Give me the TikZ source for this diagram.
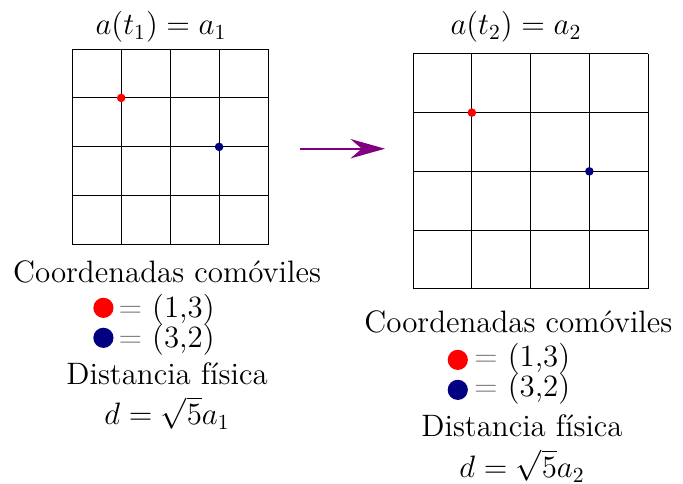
\documentclass[tikz,border=0pt]{standalone}
\usepackage{fontspec}
\usepackage{amsmath}
\usetikzlibrary{arrows.meta}
\definecolor{navyblue}{RGB}{0,0,128}
\definecolor{arrowpurple}{RGB}{128,0,128}

\begin{document}
\begin{tikzpicture}[font=\Large,
  gdot/.style={circle,fill=#1,inner sep=0pt,minimum size=0.14cm},
  legdot/.style={circle,fill=#1,inner sep=0pt,minimum size=0.33cm},
  lbl/.style={anchor=base,inner sep=0pt},
  leg/.style={anchor=base west,inner sep=0pt}]
  \useasboundingbox (-1.18,-3.90) rectangle (9.98,4.00);
  % comoving grid at t_1
  \draw (0,0) grid[step=0.8] (3.2,3.2);
  \node[gdot=red] (p1) at (0.8,2.4) {};
  \node[gdot=navyblue] (q1) at (2.4,1.6) {};
  \node[lbl] (a1) at (1.45,3.43) {$a(t_1)=a_1$};
  % same grid, stretched at t_2
  \draw[shift={(5.57,-0.72)}] (0,0) grid[step=0.96] (3.84,3.84);
  \node[gdot=red] (p2) at (6.53,2.16) {};
  \node[gdot=navyblue] (q2) at (8.45,1.2) {};
  \node[lbl] (a2) at (7.25,3.43) {$a(t_2)=a_2$};
  % expansion
  \coordinate (from) at (3.72,1.57);
  \coordinate (to) at (5.11,1.57);
  \draw[arrowpurple,line width=1pt,-{Stealth[length=16pt,width=9pt]}] (from) -- (to);
  % left legend
  \node[lbl] (c1) at (1.55,-0.62) {Coordenadas comóviles};
  \node[legdot=red] (r1) at (0.51,-1.03) {};
  \node[leg] (r1t) at (0.75,-1.18) {\textcolor{gray}{$=$} (1,3)};
  \node[legdot=navyblue] (b1) at (0.51,-1.52) {};
  \node[leg] (b1t) at (0.75,-1.68) {\textcolor{gray}{$=$} (3,2)};
  \node[lbl] (f1) at (1.55,-2.29) {Distancia física};
  \node[lbl] (d1) at (1.55,-2.94) {$d=\sqrt{5}a_1$};
  % right legend
  \node[lbl] (c2) at (7.29,-1.44) {Coordenadas comóviles};
  \node[legdot=red] (r2) at (6.30,-1.88) {};
  \node[leg] (r2t) at (6.56,-1.99) {\textcolor{gray}{$=$} (1,3)};
  \node[legdot=navyblue] (b2) at (6.30,-2.37) {};
  \node[leg] (b2t) at (6.56,-2.48) {\textcolor{gray}{$=$} (3,2)};
  \node[lbl] (f2) at (7.35,-3.14) {Distancia física};
  \node[lbl] (d2) at (7.35,-3.80) {$d=\sqrt{5}a_2$};
\end{tikzpicture}
\end{document}
